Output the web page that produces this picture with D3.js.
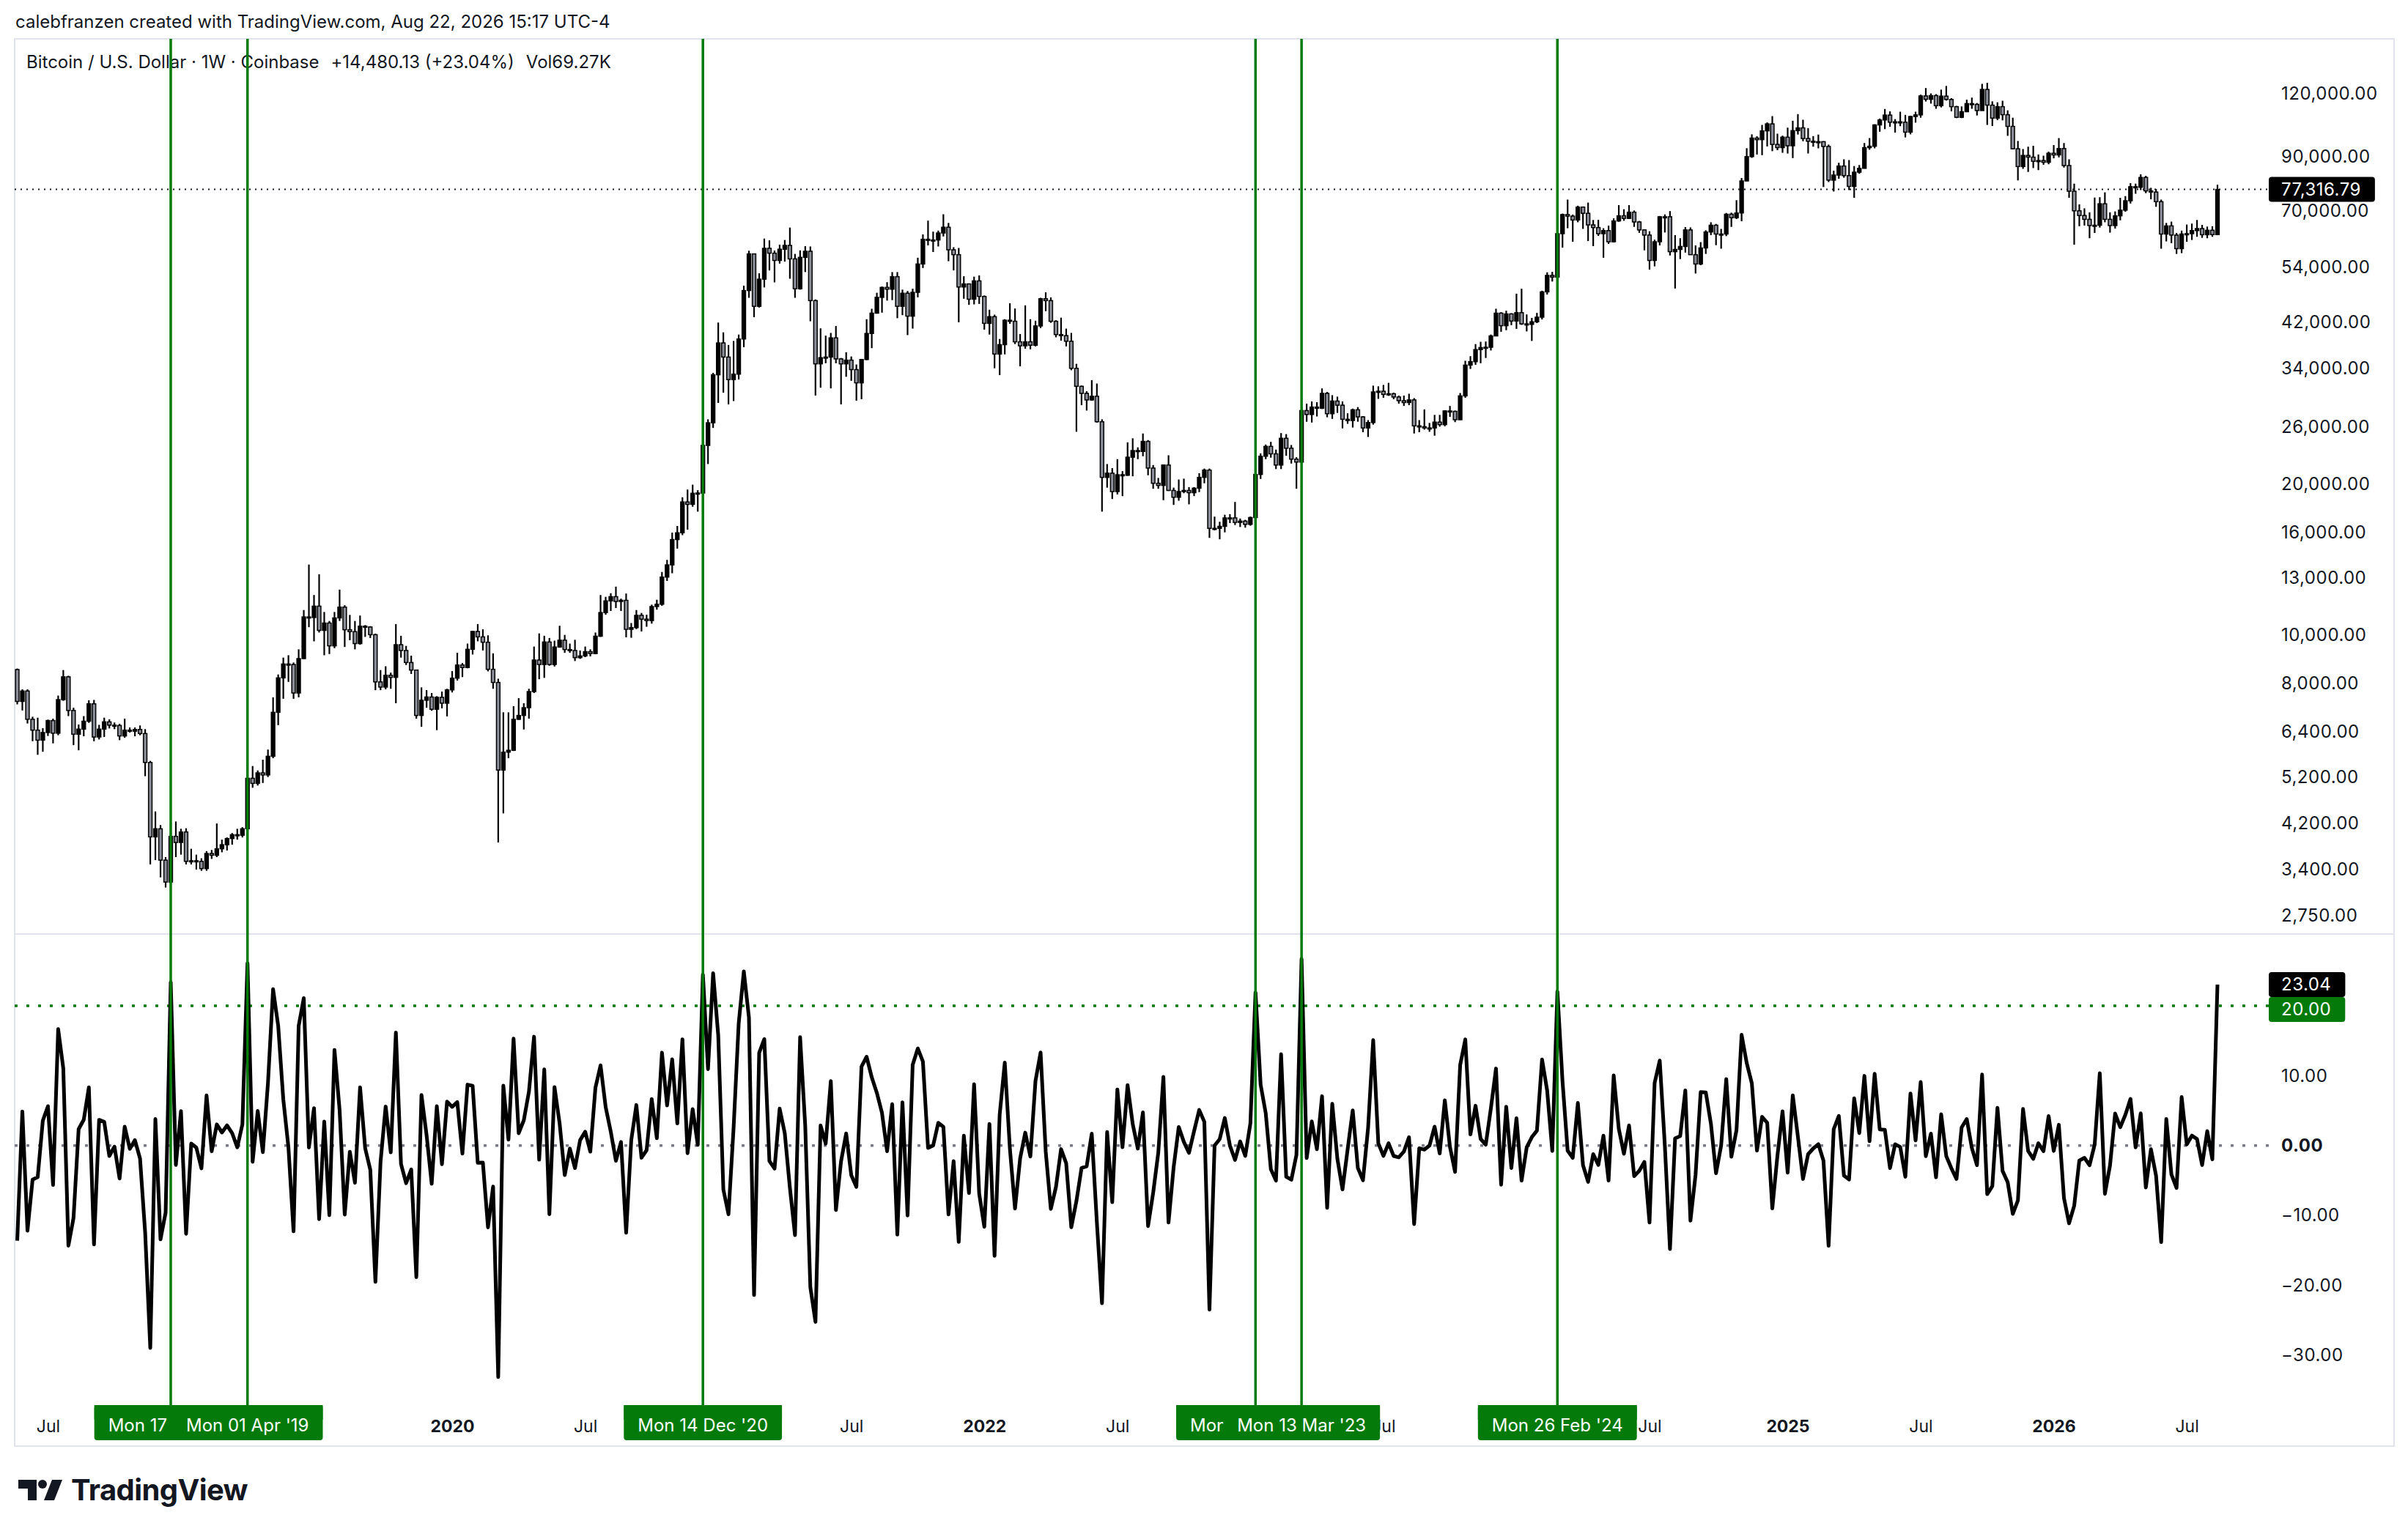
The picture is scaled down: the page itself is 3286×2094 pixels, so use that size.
<!DOCTYPE html>
<html>
<head>
<meta charset="utf-8">
<style>
  body { margin: 0; padding: 0; background: #fff; }
  svg { display: block; font-family: Inter, "Noto Sans", sans-serif; }
</style>
</head>
<body>
<div id="chart"></div>
<script src="https://d3js.org/d3.v7.min.js"></script>
<script>
// weekly BTC/USD candles, one entry per Monday from firstWeek on; open = previous close
const firstWeek = "2018-05-21";
const firstOpen = 8520;

const weekClose = [
  // 2018
  7360, 7720, 6780, 6450, 6160, 6380, 6740, 6360, 7420, 8240, 7060, 6330, 6480, 6720, 7280, 6250, 6480, 6700, 6600, 6590, 6280, 6450, 6420, 6470, 6350, 5560, 3950, 4100, 3550, 3210, 3960, 3850, 4040,
  // 2019
  3530, 3540, 3530, 3415, 3660, 3630, 3740, 3810, 3920, 3990, 3980, 4100, 5170, 5050, 5300, 5250, 5720, 7000, 8200, 8740, 8720, 7650, 8960, 10850, 10820, 11400, 10200, 10550, 9500, 10800, 11350, 10230, 10140, 9600, 10400, 10360, 10000, 8050, 7860, 8300, 8220, 9550, 9300, 8800, 8500, 6900, 7400, 7510, 7100, 7500, 7300, 7760,
  // 2020
  8190, 8700, 8600, 9350, 10150, 9900, 9660, 8530, 8030, 5370, 5830, 5880, 6780, 6900, 7150, 7700, 8900, 8720, 9670, 8720, 9450, 9750, 9340, 9300, 9000, 9070, 9250, 9170, 9930, 11070, 11680, 11910, 11650, 11710, 10250, 10330, 10930, 10740, 10670, 11380, 11500, 13030, 13780, 15480, 15970, 18400, 18200, 19150, 19170, 23860, 26470, 33000,
  // 2021
  38200, 35800, 32280, 33100, 38900, 48600, 57500, 45200, 51200, 59000, 57700, 55800, 58750, 59800, 56200, 49000, 56600, 58200, 46400, 34700, 35700, 35800, 39100, 35500, 34700, 35300, 33800, 31800, 35400, 39900, 43800, 47100, 49300, 48900, 51800, 45200, 48000, 43200, 48200, 54900, 61500, 61300, 61300, 63300, 65000, 58600, 57300, 49400, 50100, 46700, 50800, 47300,
  // 2022
  41800, 43100, 36300, 37900, 42400, 42200, 38400, 37700, 38400, 37800, 41300, 46800, 46400, 42200, 39700, 39500, 38500, 34000, 31300, 30300, 29400, 29900, 26600, 20600, 21000, 19300, 20850, 20800, 22600, 23300, 23200, 24300, 21500, 20050, 19850, 21800, 19400, 18800, 19300, 19400, 19200, 19600, 20600, 21300, 16300, 16300, 16450, 17100, 17100, 16750, 16850, 16600,
  // 2023
  17130, 20880, 22700, 23750, 22950, 21800, 24650, 23550, 22400, 22100, 28000, 27500, 28450, 28300, 30300, 27600, 29250, 28700, 26900, 26750, 28100, 27200, 25850, 26500, 30500, 30600, 30150, 30250, 29800, 29300, 29050, 29400, 26100, 26000, 25850, 25850, 26550, 26250, 27950, 27900, 26850, 29950, 34500, 35050, 37050, 37400, 37450, 39450, 43800, 41350, 43650, 42250,
  // 2024
  43900, 41700, 41600, 42100, 43000, 48300, 52100, 51700, 63100, 68900, 68400, 67200, 71300, 69300, 65700, 64900, 63100, 64000, 60800, 66900, 68500, 67700, 69650, 66600, 64200, 62700, 55800, 60800, 68200, 68200, 58100, 58700, 59500, 64200, 57300, 54900, 59100, 63600, 65600, 63000, 63000, 69000, 67900, 69400, 80400, 89900, 97900, 97200, 101200, 104500, 95100, 93700, 98300,
  // 2025
  94500, 101300, 102600, 97700, 96500, 96100, 96300, 94200, 80700, 82600, 86100, 82400, 78400, 83700, 85200, 93700, 94300, 104000, 106400, 108800, 105300, 105500, 105300, 100600, 108100, 108900, 118800, 117000, 119000, 113600, 118700, 116900, 113100, 107700, 110500, 114700, 114300, 111100, 122400, 113900, 107300, 113100, 109000, 103300, 93200, 85900, 90400, 89700, 88000, 88300, 87600, 91300,
  // 2026
  90600, 93300, 86300, 76700, 70100, 68600, 67400, 65500, 65600, 72400, 67400, 65500, 68500, 70300, 73400, 78300, 78100, 81700, 76800, 76400, 73100, 63000, 65400, 62700, 58900, 63000, 63100, 64000, 64600, 62800, 64100, 62836.66, 77316.79
];

const weekHigh = [
  // 2018
  8560, 7780, 7780, 6860, 6830, 6510, 6770, 6800, 7560, 8500, 8280, 7150, 6620, 6880, 7400, 7410, 6610, 6830, 6780, 6680, 6640, 6800, 6530, 6530, 6590, 6480, 5600, 4440, 4170, 3600, 4200, 4240, 4100,
  // 2019
  4110, 3740, 3640, 3580, 3700, 3720, 4200, 3900, 3940, 4020, 4100, 4130, 5340, 5470, 5360, 5630, 5900, 7500, 8330, 9000, 9100, 8800, 9350, 11200, 13800, 12000, 13200, 11100, 10650, 11100, 12300, 11450, 10950, 10650, 10920, 10450, 10400, 10050, 8500, 8650, 8400, 10500, 9950, 9500, 9080, 8520, 7850, 7750, 7650, 7540, 7700, 7800,
  // 2020
  8460, 9200, 8780, 9600, 10170, 10500, 10250, 9970, 9180, 8170, 7000, 7000, 7200, 7470, 7300, 7800, 9470, 10060, 9950, 9850, 9730, 10420, 9990, 9600, 9770, 9300, 9470, 9350, 10100, 12000, 11900, 12100, 12470, 11800, 12080, 10550, 11200, 11050, 10960, 11480, 11740, 13340, 14100, 15980, 16480, 18800, 19480, 19920, 19420, 24250, 26900, 33300,
  // 2021
  41950, 40100, 37850, 38550, 39700, 49700, 58350, 57500, 52600, 61700, 61200, 58400, 60000, 61300, 64900, 57500, 58450, 59600, 59500, 46650, 40850, 39500, 40000, 41300, 35650, 36600, 35900, 34600, 35500, 42600, 44700, 48100, 49500, 50500, 52900, 52900, 48800, 48500, 49000, 56500, 62900, 67000, 63700, 64000, 69000, 66300, 59300, 59100, 51900, 50200, 51800, 52100,
  // 2022
  47500, 44500, 43500, 38900, 42600, 45850, 44750, 39800, 45400, 42600, 42300, 47000, 48200, 47100, 42400, 42900, 40800, 40000, 34700, 31400, 30600, 32200, 31700, 26900, 21900, 21500, 22400, 21200, 24200, 24650, 23650, 25200, 24450, 21800, 20550, 21850, 22800, 19650, 20400, 20480, 19700, 19700, 21000, 21450, 21450, 17200, 16800, 17350, 17400, 18400, 17050, 16950,
  // 2023
  17200, 21250, 23000, 23950, 24250, 23400, 25250, 25130, 23900, 22600, 28450, 28900, 29200, 29100, 31000, 30500, 30050, 29850, 29200, 27650, 28250, 28450, 27300, 26800, 31400, 31300, 31500, 31800, 30400, 30000, 30000, 30250, 29650, 26800, 28150, 26450, 27450, 27450, 28050, 28600, 28000, 30350, 35200, 35950, 38000, 38400, 38450, 39700, 44700, 44000, 44300, 43800,
  // 2024
  47900, 49000, 43550, 42850, 43850, 48550, 52850, 52950, 64000, 69200, 73800, 68900, 71750, 71500, 72800, 67200, 67250, 64700, 65500, 67700, 71950, 70600, 71950, 70200, 66900, 64400, 63800, 61400, 68450, 68950, 70000, 62700, 61800, 65050, 64950, 59800, 60700, 64100, 66500, 66000, 64500, 69400, 69500, 73600, 81500, 93450, 99600, 98700, 104000, 105200, 108300, 99900, 99000,
  // 2025
  102700, 106000, 109300, 106500, 102500, 98800, 99500, 96500, 95000, 84300, 87400, 88800, 88500, 86100, 86500, 95700, 97900, 104300, 107100, 111900, 110700, 106800, 110500, 108900, 108500, 110500, 119500, 123200, 120200, 119800, 122300, 124400, 117600, 113500, 113200, 116800, 117900, 115000, 125600, 126200, 115900, 115400, 116200, 111200, 107500, 96600, 93100, 94100, 94500, 90800, 90300, 92000,
  // 2026
  94800, 97900, 95700, 88800, 79400, 72200, 70900, 69600, 74500, 74600, 76300, 69600, 69900, 74400, 75000, 79600, 79400, 82900, 82300, 77900, 77500, 73800, 66300, 66700, 63300, 64000, 65800, 66100, 67200, 65700, 65200, 65300, 79000
];

const weekLow = [
  // 2018
  7260, 7060, 6650, 6130, 5760, 5840, 6280, 6070, 6300, 7380, 6880, 6020, 5880, 6270, 6670, 6130, 6180, 6250, 6500, 6480, 6160, 6230, 6380, 6270, 6300, 5220, 3480, 3550, 3280, 3130, 3190, 3600, 3640,
  // 2019
  3480, 3480, 3400, 3380, 3380, 3570, 3600, 3680, 3710, 3810, 3900, 3940, 4090, 4950, 5000, 5060, 5200, 5670, 6600, 7450, 8050, 7450, 7500, 8950, 10350, 9700, 10100, 9100, 9150, 9400, 10650, 9450, 9750, 9350, 9550, 9900, 9850, 7750, 7750, 7780, 7800, 7300, 9000, 8700, 8350, 6800, 6550, 7150, 7050, 6450, 7130, 6870,
  // 2020
  7670, 8100, 8230, 8570, 9130, 9700, 9300, 8450, 7800, 3850, 4400, 5670, 5860, 6760, 6470, 6800, 7650, 8150, 8200, 8670, 8640, 9420, 9200, 9200, 8860, 8950, 9020, 9050, 9140, 9900, 10960, 11150, 11300, 11150, 9880, 9860, 10260, 10150, 10370, 10520, 11220, 11420, 12800, 13260, 14850, 15800, 16200, 18000, 17600, 19000, 21900, 25850,
  // 2021
  29000, 30400, 28800, 29250, 32300, 37450, 47000, 43000, 44950, 49300, 53300, 50450, 55000, 55500, 51300, 47000, 48800, 52900, 42200, 30000, 31100, 34800, 31000, 34800, 28800, 32700, 32100, 29300, 29500, 35300, 37300, 43700, 43900, 46400, 46500, 42800, 43400, 39600, 40800, 47100, 53900, 59800, 58000, 59500, 62300, 55600, 53300, 42000, 46800, 45500, 45600, 45700,
  // 2022
  40600, 39700, 34000, 32950, 36250, 41700, 38000, 34300, 37200, 37100, 37600, 40900, 44200, 41900, 39200, 38600, 37600, 33700, 25400, 28700, 28000, 29300, 26500, 17600, 19650, 18650, 19050, 18900, 20750, 20700, 22400, 22700, 20800, 19550, 19550, 18550, 19350, 18150, 18500, 19150, 18200, 18900, 19250, 20050, 15600, 16150, 15500, 16000, 16700, 16550, 16400, 16350,
  // 2023
  16500, 17100, 20450, 22400, 22550, 21400, 21400, 22750, 21950, 19550, 21900, 26600, 26500, 27250, 28200, 27150, 26950, 27700, 25800, 26350, 25900, 26600, 25350, 24800, 26250, 29550, 29700, 29950, 29500, 28900, 28600, 28700, 25200, 25350, 25650, 25400, 24950, 26000, 26050, 27200, 26550, 26800, 29700, 33900, 34550, 34800, 35650, 36900, 39400, 40200, 40500, 41450,
  // 2024
  40750, 41500, 40280, 38550, 41850, 42550, 47700, 50650, 50850, 59200, 64700, 60800, 66500, 64500, 61000, 59600, 62450, 56500, 60200, 60600, 66650, 66950, 67550, 65100, 63350, 58450, 53500, 54300, 59800, 63450, 57100, 49050, 56150, 57850, 57250, 52550, 54600, 57500, 62700, 59850, 58900, 62400, 65100, 67500, 66800, 80300, 89400, 90750, 90500, 94200, 92200, 92600, 91500,
  // 2025
  91200, 89300, 99500, 96500, 91200, 94100, 93400, 78200, 80000, 76600, 81200, 81600, 77100, 74400, 83100, 85100, 92800, 93400, 100800, 102000, 103100, 100400, 103400, 98200, 99600, 105100, 107500, 115800, 114700, 112000, 112700, 116300, 110700, 107300, 107300, 110300, 112000, 108600, 111000, 104000, 103500, 106300, 106200, 98900, 93000, 80600, 85000, 83800, 85300, 84500, 86600, 86800,
  // 2026
  89200, 89600, 85500, 74400, 60000, 65300, 65500, 61800, 63300, 64900, 66500, 63400, 64600, 67100, 69800, 72500, 75800, 77100, 76000, 73900, 71400, 58900, 60900, 60400, 57500, 57700, 60800, 61300, 62200, 61900, 61800, 62200, 62700
];

// weeks marked with green vertical lines (weekly change above 20%)
const markWeeks = ["2018-12-17", "2019-04-01", "2020-12-14", "2023-01-09", "2023-03-13", "2024-02-26"];
const thresholdLevel = 20;

const priceTicks = [120000, 90000, 70000, 54000, 42000, 34000, 26000, 20000, 16000, 13000, 10000, 8000, 6400, 5200, 4200, 3400, 2750];
const changeTicks = [10, 0, -10, -20, -30];
// time labels left visible beside the date boxes
const timeTicks = ["2018-07-02", "2020-01-06", "2020-07-06", "2021-07-05", "2022-01-03", "2022-07-04",
  "2023-07-03", "2024-07-01", "2025-01-06", "2025-07-07", "2026-01-05", "2026-07-06"];
const volumeText = "Vol69.27K";

const W = 3286, H = 2094;
const ink = "#131722", green = "#047a0b", frameColor = "#e0e3eb";
const paneLeft = 20, paneTop = 53, paneRight = 3267, paneBottom = 1974, paneSplit = 1275, plotRight = 3096, axisX = 3113;

const parse = d3.utcParse("%Y-%m-%d");
const start = parse(firstWeek);
const weeks = weekClose.map((c, i) => {
  const open = i === 0 ? firstOpen : weekClose[i - 1];
  return {
    date: d3.utcMonday.offset(start, i),
    open: open, close: c, high: weekHigh[i], low: weekLow[i],
    change: (c - open) / open * 100
  };
});
const last = weeks[weeks.length - 1];

const x = d3.scaleUtc().domain([parse("2018-12-17"), parse("2026-08-17")]).range([233, 3026]);
const yPrice = d3.scaleLog().domain([2750, 120000]).range([1250, 128]);
const yChg = d3.scaleLinear().domain([-30, 20]).range([1850, 1373]);

const svg = d3.select("#chart").append("svg").attr("width", W).attr("height", H);
svg.append("rect").attr("width", W).attr("height", H).attr("fill", "#fff");

// header
svg.append("text").attr("x", 21).attr("y", 30).attr("dy", "0.35em")
  .attr("font-size", 24).attr("fill", ink)
  .text("calebfranzen created with TradingView.com, Aug 22, 2026 15:17 UTC-4");

// frame
svg.append("rect").attr("x", paneLeft).attr("y", paneTop)
  .attr("width", paneRight - paneLeft).attr("height", paneBottom - paneTop)
  .attr("fill", "none").attr("stroke", frameColor).attr("stroke-width", 2);
svg.append("line").attr("x1", paneLeft).attr("x2", paneRight).attr("y1", paneSplit).attr("y2", paneSplit)
  .attr("stroke", frameColor).attr("stroke-width", 2);

// legend
const fmtPrice = d3.format(",.2f");
const legend = svg.append("text").attr("x", 36).attr("y", 85).attr("dy", "0.35em")
  .attr("font-size", 24).attr("fill", ink);
legend.append("tspan").text("Bitcoin / U.S. Dollar · 1W · Coinbase");
legend.append("tspan").attr("dx", 16)
  .text("+" + fmtPrice(last.close - last.open) + " (+" + d3.format(".2f")(last.change) + "%)");
legend.append("tspan").attr("dx", 16).text(volumeText);

// dotted level lines
svg.append("line").attr("x1", paneLeft).attr("x2", plotRight)
  .attr("y1", yPrice(last.close)).attr("y2", yPrice(last.close))
  .attr("stroke", ink).attr("stroke-width", 2).attr("stroke-dasharray", "2 6");
svg.append("line").attr("x1", paneLeft).attr("x2", plotRight)
  .attr("y1", yChg(thresholdLevel)).attr("y2", yChg(thresholdLevel))
  .attr("stroke", green).attr("stroke-width", 3.5).attr("stroke-dasharray", "4 12");
svg.append("line").attr("x1", paneLeft).attr("x2", plotRight)
  .attr("y1", yChg(0)).attr("y2", yChg(0))
  .attr("stroke", "#787b86").attr("stroke-width", 3.5).attr("stroke-dasharray", "4 12");

// candles
const candle = svg.append("g").selectAll("g").data(weeks).join("g");
candle.append("line")
  .attr("x1", d => x(d.date)).attr("x2", d => x(d.date))
  .attr("y1", d => yPrice(Math.max(d.high, d.open, d.close)))
  .attr("y2", d => yPrice(Math.min(d.low, d.open, d.close)))
  .attr("stroke", "#000").attr("stroke-width", 2.2);
candle.append("rect")
  .attr("x", d => x(d.date) - 2.4).attr("width", 4.8)
  .attr("y", d => yPrice(Math.max(d.open, d.close)))
  .attr("height", d => Math.max(1.5, Math.abs(yPrice(d.open) - yPrice(d.close))))
  .attr("fill", d => d.close >= d.open ? "#000" : "#8c8f99")
  .attr("stroke", "#000").attr("stroke-width", 1.5);

// weekly % change
svg.append("path").datum(weeks)
  .attr("d", d3.line().x(d => x(d.date)).y(d => yChg(d.change)))
  .attr("fill", "none").attr("stroke", "#000").attr("stroke-width", 5)
  .attr("stroke-linejoin", "round");

// price axis
const priceAxis = svg.append("g").attr("transform", `translate(${axisX},0)`)
  .call(d3.axisRight(yPrice).tickValues(priceTicks).tickFormat(fmtPrice).tickSize(0).tickPadding(0));
priceAxis.select(".domain").remove();
priceAxis.attr("font-size", 24).attr("font-family", null).attr("letter-spacing", 0.5);
priceAxis.selectAll("text").attr("fill", ink);

const chgAxis = svg.append("g").attr("transform", `translate(${axisX},0)`)
  .call(d3.axisRight(yChg).tickValues(changeTicks).tickFormat(d3.format(".2f")).tickSize(0).tickPadding(0));
chgAxis.select(".domain").remove();
chgAxis.attr("font-size", 24).attr("font-family", null).attr("letter-spacing", 0.5);
chgAxis.selectAll("text").attr("fill", ink).attr("font-weight", d => d === 0 ? 700 : 400);

// last value boxes on the right scale
function valueBox(yc, fill, label) {
  const g = svg.append("g");
  const t = g.append("text").attr("x", axisX).attr("y", yc).attr("dy", "0.35em")
    .attr("font-size", 24).attr("letter-spacing", 0.5).attr("fill", "#fff").text(label);
  g.insert("rect", "text").attr("x", plotRight).attr("y", yc - 17)
    .attr("width", t.node().getComputedTextLength() + 36).attr("height", 34)
    .attr("rx", 4).attr("fill", fill);
}
valueBox(yPrice(last.close), "#000", fmtPrice(last.close));
const cY = yChg(last.change);
valueBox(cY, "#000", d3.format(".2f")(last.change));
valueBox(cY + 34, green, d3.format(".2f")(thresholdLevel));

// time axis
const timeAxis = svg.append("g").attr("transform", "translate(0,1947)")
  .call(d3.axisBottom(x).tickValues(timeTicks.map(parse))
    .tickFormat(d => d.getUTCMonth() === 0 ? d3.utcFormat("%Y")(d) : d3.utcFormat("%b")(d))
    .tickSize(0).tickPadding(0));
timeAxis.select(".domain").remove();
timeAxis.attr("font-size", 23).attr("font-family", null);
timeAxis.selectAll("text").attr("y", 0).attr("dy", "0.35em").attr("fill", ink)
  .attr("font-weight", d => d.getUTCMonth() === 0 ? 700 : 400);

// marked weeks: vertical lines and date labels
const marks = markWeeks.map(parse);
svg.append("g").selectAll("line").data(marks).join("line")
  .attr("x1", d => x(d)).attr("x2", d => x(d))
  .attr("y1", paneTop).attr("y2", 1918)
  .attr("stroke", green).attr("stroke-width", 3.5);

const labelFmt = d3.utcFormat("%a %d %b '%y");
marks.forEach(d => {
  const g = svg.append("g");
  const t = g.append("text").attr("x", x(d)).attr("y", 1946).attr("dy", "0.35em")
    .attr("text-anchor", "middle").attr("font-size", 24).attr("fill", "#fff").text(labelFmt(d));
  const w = t.node().getComputedTextLength() + 38;
  g.insert("rect", "text").attr("x", x(d) - w / 2).attr("y", 1918).attr("width", w).attr("height", 48)
    .attr("rx", 4).attr("fill", green);
  g.insert("rect", "text").attr("x", x(d) - w / 2).attr("y", 1918).attr("width", w).attr("height", 20)
    .attr("fill", green);
});

// TradingView logo
const logo = svg.append("g").attr("fill", ink);
logo.append("path").attr("d", "M25,2020 H50 V2048 H38 V2032 H25 Z");
logo.append("circle").attr("cx", 58).attr("cy", 2026).attr("r", 6);
logo.append("path").attr("d", "M71,2020 H85 L74,2048 H60 Z");
logo.append("text").attr("x", 97).attr("y", 2048).attr("font-size", 40).attr("font-weight", 700)
  .attr("letter-spacing", -0.6).text("TradingView");
</script>
</body>
</html>
